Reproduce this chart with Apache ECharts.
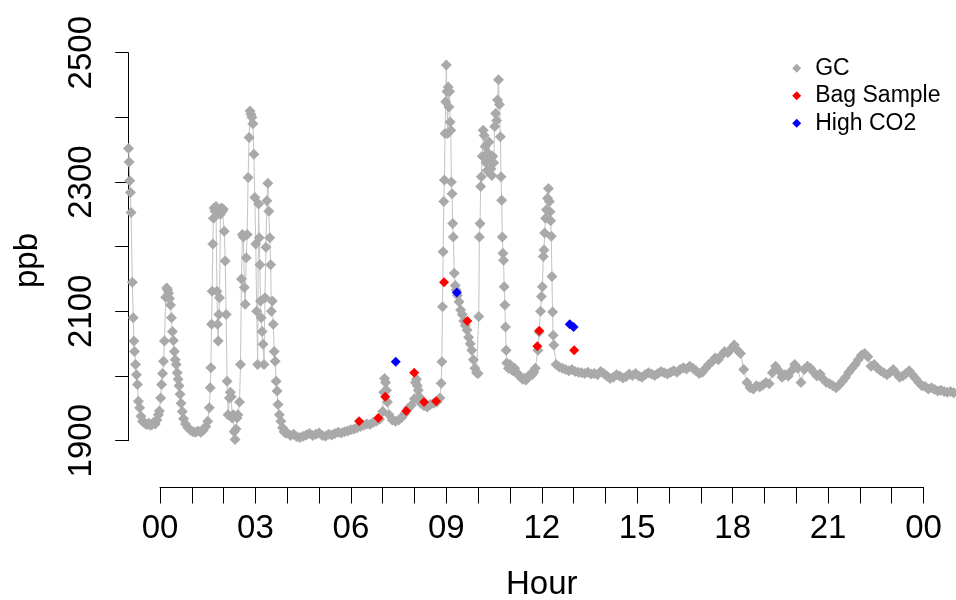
<!DOCTYPE html>
<html><head><meta charset="utf-8">
<script src="https://cdn.jsdelivr.net/npm/echarts@6/dist/echarts.min.js"></script>
<style>html,body{margin:0;padding:0;background:#fff}#c{width:956px;height:600px}</style>
</head><body><div id="c"></div>
<script>
// GC measurements: hour of day (negative = previous evening) and ppb
const gcHour = [
-0.99,-0.97,-0.95,-0.93,-0.91,-0.87,-0.84,-0.82,-0.80,-0.77,-0.74,-0.71,-0.68,-0.64,-0.60,-0.55,-0.50,-0.45,-0.40,-0.35,-0.30,-0.25,-0.20,-0.15,-0.10,-0.05,-0.02,
0.02,0.05,0.08,0.11,0.14,0.18,0.21,0.24,0.27,0.30,0.33,0.36,0.39,0.42,0.45,0.48,0.51,0.54,0.57,0.60,0.63,0.66,0.70,0.74,0.80,0.88,0.96,
1.04,1.12,1.20,1.28,1.36,1.44,1.50,1.55,1.58,1.60,1.62,1.64,1.66,1.68,1.70,1.73,1.76,1.79,1.81,1.83,1.85,1.87,1.90,1.93,1.96,1.99,
2.02,2.05,2.08,2.11,2.14,2.18,2.21,2.24,2.27,2.30,2.33,2.36,2.39,2.42,2.45,2.50,2.53,2.56,2.59,2.62,2.65,2.68,2.71,2.74,2.77,2.80,2.83,2.86,2.89,2.92,2.95,2.98,
3.01,3.04,3.07,3.10,3.12,3.14,3.16,3.18,3.21,3.24,3.27,3.30,3.33,3.36,3.39,3.42,3.45,3.48,3.50,3.53,3.56,3.59,3.62,3.65,3.68,3.71,3.75,3.80,3.85,3.90,3.95,
4.0,4.1,4.2,4.3,4.4,4.5,4.6,4.7,4.8,4.9,5.0,5.1,5.2,5.3,5.4,5.5,5.6,5.7,5.8,5.9,6.0,6.1,6.2,6.3,
6.4,6.5,6.6,6.7,6.8,6.9,7.0,7.03,7.06,7.09,7.12,7.15,7.2,7.3,7.4,7.5,7.6,7.7,7.8,7.9,8.0,8.03,8.06,8.09,8.12,8.15,8.2,8.3,8.4,8.5,8.6,8.7,8.8,
8.84,8.86,8.88,8.90,8.92,8.94,8.96,8.98,9.00,9.02,9.04,9.06,9.08,9.10,9.12,9.14,9.16,9.18,9.20,9.22,9.25,9.28,9.31,9.35,9.40,9.45,9.50,9.55,9.60,9.65,9.70,9.75,9.80,9.85,9.90,9.95,
10.00,10.02,10.04,10.06,10.08,10.10,10.13,10.16,10.19,10.22,10.25,10.28,10.31,10.34,10.37,10.40,10.43,10.46,10.49,10.52,10.55,10.58,10.61,10.64,10.67,10.70,10.72,10.74,10.76,10.78,10.80,10.82,10.84,10.86,10.88,10.90,
10.95,11.00,11.05,11.10,11.15,11.20,11.25,11.30,11.35,11.40,11.45,11.50,11.55,11.60,11.65,11.70,11.75,11.80,
11.88,11.92,11.96,11.99,12.02,12.05,12.07,12.09,12.12,12.15,12.18,12.21,12.24,12.26,12.28,12.30,12.32,12.34,12.36,12.38,
12.45,12.55,12.65,12.75,12.85,12.95,13.05,13.15,13.25,13.35,13.45,13.55,13.65,13.75,13.85,13.95,14.05,14.15,14.25,14.35,14.45,14.55,14.65,14.75,14.85,14.95,
15.05,15.15,15.25,15.35,15.45,15.55,15.65,15.75,15.85,15.95,16.05,16.15,16.25,16.35,16.45,16.55,16.65,16.75,16.85,16.95,
17.05,17.15,17.25,17.35,17.45,17.55,17.65,17.75,17.85,17.95,18.05,18.15,18.25,18.35,18.45,18.55,18.65,18.75,18.85,18.95,
19.05,19.15,19.25,19.35,19.45,19.55,19.65,19.75,19.85,19.95,20.05,20.15,20.25,20.35,20.45,20.55,20.65,20.75,20.85,20.95,
21.05,21.15,21.25,21.35,21.45,21.55,21.65,21.75,21.85,21.95,22.05,22.15,22.25,22.35,22.45,22.55,22.65,22.75,22.85,22.95,
23.05,23.15,23.25,23.35,23.45,23.55,23.65,23.75,23.85,23.95,24.05,24.15,24.25,24.35,24.45,24.55,24.65,24.75,24.85,24.95
];
const gcPpb = [
2352,2331,2302,2284,2253,2145,2090,2054,2038,2018,2002,1987,1961,1951,1938,1930,1928,1926,1925,1927,1924,1925,1928,1926,1932,1940,1946,
1966,1987,2004,2023,2054,2122,2136,2133,2128,2120,2110,2090,2069,2055,2038,2025,2018,2005,1995,1985,1972,1958,1945,1934,1926,1920,1916,
1914,1913,1915,1913,1916,1922,1930,1951,1982,2013,2080,2131,2204,2244,2260,2255,2262,2131,2080,2054,2095,2121,2250,2260,2255,2258,
2224,2178,2095,1992,1940,1966,1975,1968,1935,1940,1914,1902,1918,1935,1940,1960,2018,2150,2219,2215,2137,2111,2183,2219,2307,2369,2410,2405,2400,2390,2343,2276,
2204,2100,2018,2266,2214,2172,2116,2090,2069,2049,2018,2121,2199,2271,2298,2255,2214,2172,2100,2116,2080,2038,2023,1992,1977,1956,1940,1930,1920,1914,1912,
1912,1908,1910,1906,1905,1907,1909,1911,1908,1910,1912,1908,1907,1910,1909,1911,1913,1912,1914,1915,1917,1918,1920,1922,
1924,1926,1925,1928,1930,1933,1945,1975,1996,1990,1978,1960,1940,1932,1930,1932,1936,1942,1950,1955,1965,1990,1995,1985,1978,1968,1958,1954,1952,1956,1958,1960,1966,
1989,2022,2107,2192,2270,2303,2375,2424,2481,2440,2375,2447,2416,2440,2393,2380,2300,2282,2236,2215,2159,2140,2133,2125,2115,2102,2095,2085,2078,2071,2060,2050,2040,2025,2012,2005,
2004,2092,2215,2236,2293,2308,2340,2380,2372,2355,2330,2318,2345,2362,2335,2320,2310,2340,2330,2386,2406,2395,2427,2458,2420,2370,2308,2272,2215,2190,2179,2138,2110,2076,2040,2020,
2012,2018,2010,2008,2012,2006,2003,2000,1998,1995,1996,1994,1998,2000,2003,2002,2006,2012,
2040,2068,2100,2123,2138,2185,2195,2221,2244,2257,2275,2290,2270,2254,2240,2216,2154,2099,2063,2048,
2018,2014,2012,2010,2008,2010,2007,2006,2005,2004,2006,2003,2004,2002,2007,2004,2000,1996,1998,2002,2000,1997,1999,2003,2001,2004,
2000,1998,2002,2005,2003,2001,2004,2007,2005,2003,2006,2008,2006,2010,2013,2011,2015,2012,2008,2004,
2006,2012,2018,2022,2028,2025,2032,2038,2036,2042,2048,2040,2035,2010,1990,1982,1980,1985,1983,1986,
1990,1988,2005,2015,2008,1998,2002,2000,2008,2018,2012,1990,2010,2015,2012,2006,2000,2003,1995,1990,
1988,1985,1982,1986,1992,1998,2006,2012,2018,2025,2032,2035,2030,2015,2018,2012,2008,2005,2002,2006,
2010,2004,1998,2000,2004,2008,2002,1996,1990,1985,1984,1980,1982,1979,1977,1978,1976,1975,1976,1974
];
// Bag samples
const bagHour = [6.26, 6.86, 7.08, 7.74, 7.99, 8.30, 8.68, 8.93, 9.66, 11.86, 11.92, 13.02];
const bagPpb  = [1930, 1935, 1968, 1946, 2005, 1960, 1961, 2145, 2085, 2046, 2070, 2040];
// High CO2
const co2Hour = [7.41, 9.33, 12.88, 13.00];
const co2Ppb  = [2022, 2129, 2080, 2076];
// Axis ticks
const ppbTicks = [1900, 2100, 2300, 2500];
const hourLabels = ['00','03','06','09','12','15','18','21','00'];

const FONT = '"Liberation Sans", Arial, sans-serif';
const X0 = 160, X24 = 923.5, PXH = (X24 - X0) / 24;
const YTOP = 52.7, YBOT = 440.7, XAXISY = 487.5;

const chart = echarts.init(document.getElementById('c'), null, {renderer: 'canvas'});
chart.setOption({
  animation: false,
  backgroundColor: '#ffffff',
  textStyle: {fontFamily: FONT},
  grid: [
    {left: X0 - PXH, top: YTOP, width: PXH * 26, height: YBOT - YTOP, containLabel: false, outerBoundsMode: 'none'},
    {left: X0, top: YTOP, width: X24 - X0, height: XAXISY - YTOP, containLabel: false, outerBoundsMode: 'none'}
  ],
  xAxis: [
    {gridIndex: 0, type: 'value', min: -1, max: 25, show: false},
    {gridIndex: 1, type: 'value', min: 0, max: 24, interval: 1, position: 'bottom',
     axisLine: {show: true, onZero: false, lineStyle: {color: '#000', width: 1}},
     axisTick: {show: true, inside: false, length: 16, lineStyle: {color: '#000', width: 1}},
     splitLine: {show: false},
     axisLabel: {show: true, margin: 25, fontSize: 33, color: '#000', fontFamily: FONT,
       formatter: v => (v % 3 === 0 ? hourLabels[v / 3] : '')},
     name: 'Hour', nameLocation: 'middle', nameGap: 81,
     nameTextStyle: {fontSize: 33, color: '#000', fontFamily: FONT}}
  ],
  yAxis: [
    {gridIndex: 0, type: 'value', min: 1900, max: 2500, interval: 100, position: 'left',
     axisLine: {show: true, onZero: false, lineStyle: {color: '#000', width: 1}},
     axisTick: {show: true, inside: false, length: 13, lineStyle: {color: '#000', width: 1}},
     splitLine: {show: false},
     axisLabel: {show: true, rotate: 90, margin: 30, fontSize: 33, color: '#000', fontFamily: FONT,
       formatter: v => (ppbTicks.includes(v) ? String(v) : '')}},
    {gridIndex: 1, type: 'value', show: false, min: 0, max: 1}
  ],
  legend: {
    orient: 'vertical', left: 787.2, top: 49.5, itemGap: 0,
    itemWidth: 9, itemHeight: 9,
    textStyle: {fontSize: 23, color: '#000', fontFamily: FONT, lineHeight: 27.5, padding: [0, 0, 0, 9]},
    data: [{name: 'GC', icon: 'diamond'}, {name: 'Bag Sample', icon: 'diamond'}, {name: 'High CO2', icon: 'diamond'}]
  },
  graphic: [{
    type: 'text', x: 27.5, y: 260.5, rotation: Math.PI / 2,
    style: {text: 'ppb', font: '33px ' + FONT, fill: '#000', align: 'center', verticalAlign: 'middle'}
  }],
  series: [
    {name: 'GC', type: 'line', xAxisIndex: 0, yAxisIndex: 0, clip: false,
     data: gcHour.map((h, i) => [h, gcPpb[i]]),
     symbol: 'diamond', symbolSize: 11, showAllSymbol: true, sampling: null,
     itemStyle: {color: '#A9A9A9'}, lineStyle: {color: '#C4C4C4', width: 1}, z: 2},
    {name: 'Bag Sample', type: 'scatter', xAxisIndex: 0, yAxisIndex: 0, clip: false,
     data: bagHour.map((h, i) => [h, bagPpb[i]]),
     symbol: 'diamond', symbolSize: 10, itemStyle: {color: '#FF0000', opacity: 1}, z: 3},
    {name: 'High CO2', type: 'scatter', xAxisIndex: 0, yAxisIndex: 0, clip: false,
     data: co2Hour.map((h, i) => [h, co2Ppb[i]]),
     symbol: 'diamond', symbolSize: 10, itemStyle: {color: '#0000FF', opacity: 1}, z: 3}
  ]
});
</script></body></html>
